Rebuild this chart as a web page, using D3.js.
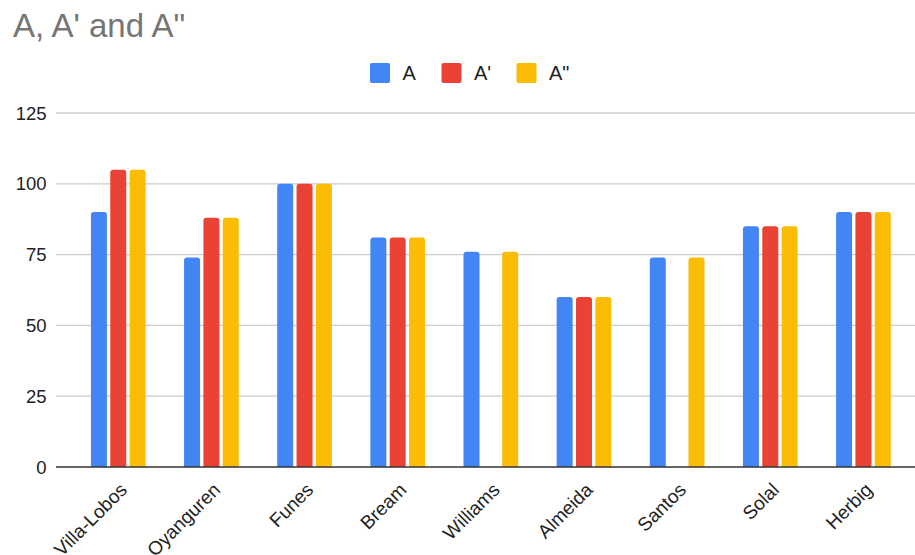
<!DOCTYPE html>
<html>
<head>
<meta charset="utf-8">
<script src="https://cdn.jsdelivr.net/npm/d3@7"></script>
<style>
  html, body { margin: 0; padding: 0; background: #fff; }
  svg { display: block; font-family: "Liberation Sans", Arial, sans-serif; }
</style>
</head>
<body>
<svg id="chart" width="915" height="555"></svg>
<script>
// Chart data
const categories = ["Villa-Lobos", "Oyanguren", "Funes", "Bream", "Williams", "Almeida", "Santos", "Solal", "Herbig"];
const seriesNames = ["A", "A'", "A\""];
const valuesA   = [90, 74, 100, 81, 76, 60, 74, 85, 90];
const valuesA1  = [105, 88, 100, 81, null, 60, null, 85, 90];
const valuesA2  = [105, 88, 100, 81, 76, 60, 74, 85, 90];
const yTicks = [0, 25, 50, 75, 100, 125];
const colors = ["#4285F4", "#EA4335", "#FBBC04"];

const series = [valuesA, valuesA1, valuesA2];

const svg = d3.select("#chart");

// Scales
const x0 = d3.scaleBand().domain(categories).range([71.7, 910]).paddingInner(0).paddingOuter(0);
const groupW = 54.7;
const x1 = d3.scaleBand().domain(seriesNames).range([-groupW / 2, groupW / 2]).paddingInner(0.173).paddingOuter(0);
const y = d3.scaleLinear().domain([0, 125]).range([467, 113]);

// Title
svg.append("text")
  .attr("x", 13).attr("y", 37)
  .attr("font-size", 33)
  .attr("fill", "#757575")
  .text("A, A' and A\"");

// Legend
const legendPos = [370, 441.5, 516.5];
seriesNames.forEach((name, i) => {
  const g = svg.append("g").attr("transform", `translate(${legendPos[i]},63)`);
  g.append("rect").attr("width", 20).attr("height", 20).attr("rx", 2).attr("fill", colors[i]);
  g.append("text").attr("x", 32.5).attr("y", 16.5)
    .attr("font-size", 20).attr("fill", "#222").text(name);
});

// Gridlines
svg.append("g")
  .selectAll("line")
  .data(yTicks.filter(d => d !== 0))
  .join("line")
  .attr("x1", 56).attr("x2", 915)
  .attr("y1", d => y(d)).attr("y2", d => y(d))
  .attr("stroke", "#cccccc").attr("stroke-width", 1.3);

// Y axis labels
svg.append("g")
  .selectAll("text")
  .data(yTicks)
  .join("text")
  .attr("x", 46.5)
  .attr("y", d => y(d))
  .attr("dy", "0.36em")
  .attr("text-anchor", "end")
  .attr("font-size", 18.5)
  .attr("fill", "#222")
  .text(d => d);

// Bars with rounded top corners
function barPath(x, yTop, w, yBase, r) {
  r = Math.min(r, (yBase - yTop), w / 2);
  return `M${x},${yBase}V${yTop + r}Q${x},${yTop} ${x + r},${yTop}H${x + w - r}Q${x + w},${yTop} ${x + w},${yTop + r}V${yBase}Z`;
}

const barData = [];
categories.forEach((c, ci) => {
  seriesNames.forEach((s, si) => {
    const v = series[si][ci];
    if (v !== null && v !== undefined) barData.push({ c, s, si, v });
  });
});

svg.append("g")
  .selectAll("path")
  .data(barData)
  .join("path")
  .attr("d", d => {
    const bx = x0(d.c) + x0.bandwidth() / 2 + x1(d.s);
    return barPath(bx, y(d.v), x1.bandwidth(), y(0), 3);
  })
  .attr("fill", d => colors[d.si]);

// Baseline
svg.append("line")
  .attr("x1", 56).attr("x2", 915)
  .attr("y1", y(0)).attr("y2", y(0))
  .attr("stroke", "#333").attr("stroke-width", 1.5);

// X axis labels
svg.append("g")
  .selectAll("text")
  .data(categories)
  .join("text")
  .attr("transform", d => `translate(${x0(d) + x0.bandwidth() / 2 + 10},491) rotate(-45)`)
  .attr("text-anchor", "end")
  .attr("font-size", 19)
  .attr("fill", "#222")
  .text(d => d);
</script>
</body>
</html>
